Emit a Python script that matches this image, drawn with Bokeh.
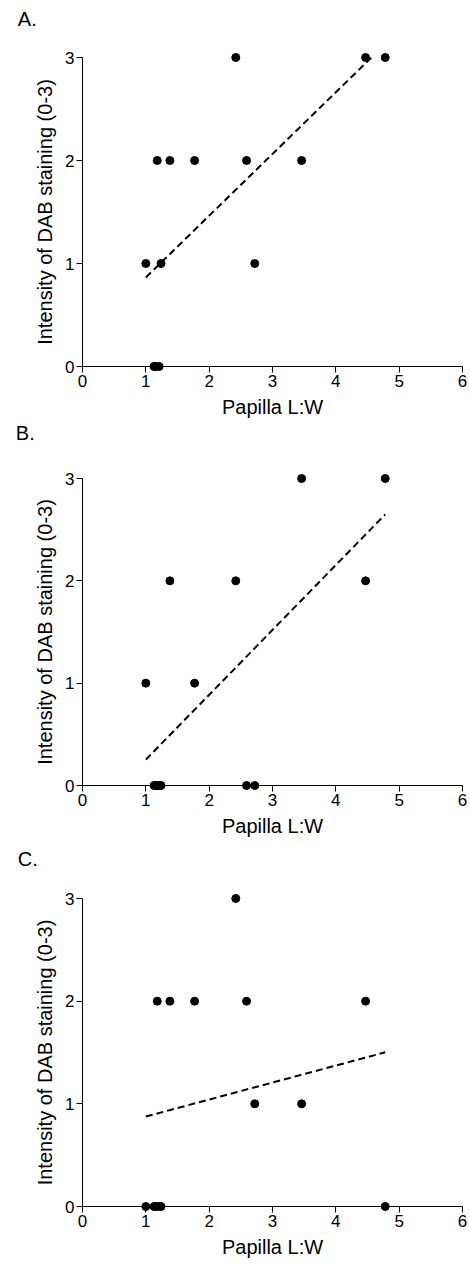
import numpy as np
from bokeh.plotting import figure
from bokeh.layouts import column
from bokeh.models import Range1d, FixedTicker
from bokeh.core.properties import value
from bokeh.embed import file_html
from bokeh.resources import INLINE

# ---- data ----
papilla_lw = [1.00, 1.13, 1.16, 1.18, 1.21, 1.24, 1.38, 1.77, 2.42, 2.59, 2.72, 3.46, 4.47, 4.78]
dab_a = [1, 0, 0, 2, 0, 1, 2, 2, 3, 2, 1, 2, 3, 3]
dab_b = [1, 0, 0, 0, 0, 0, 2, 1, 2, 0, 0, 3, 2, 3]
dab_c = [0, 0, 0, 2, 0, 0, 2, 2, 3, 2, 1, 1, 2, 0]
panel_labels = ["A.", "B.", "C."]
x_ticks = [0, 1, 2, 3, 4, 5, 6]
y_ticks = [0, 1, 2, 3]
x_label = "Papilla L:W"
y_label = "Intensity of DAB staining (0-3)"

FONT = "Liberation Sans"

# layout per panel: (fig height, border top, frame height, border left, letter centre px above frame)
specs = [(423, 57, 309, 80, 39), (422, 55, 307, 82, 46), (423, 53, 308, 80, 40)]
FIG_W = 470
FRAME_W = 382
LETTER_X_PX = 15
X_MIN, X_MAX = 0, 6
Y_MIN, Y_MAX = 0, 3


def make_panel(ys, letter, spec):
    h, top, fh, left, above = spec
    p = figure(width=FIG_W, height=h, output_backend="svg", toolbar_location=None,
               x_range=Range1d(X_MIN, X_MAX), y_range=Range1d(Y_MIN, Y_MAX),
               min_border_left=left, min_border_right=FIG_W - left - FRAME_W,
               min_border_top=top, min_border_bottom=h - top - fh)
    p.outline_line_color = None
    p.grid.visible = False
    p.background_fill_color = "white"
    p.border_fill_color = "white"

    for ax in (p.xaxis[0], p.yaxis[0]):
        ax.axis_line_color = "black"
        ax.axis_line_width = 1
        ax.major_tick_line_color = "black"
        ax.major_tick_out = 6
        ax.major_tick_in = 0
        ax.minor_tick_line_color = None
        ax.major_label_text_font = FONT
        ax.major_label_text_font_size = "17px"
        ax.major_label_text_color = "black"
        ax.axis_label_text_font = FONT
        ax.axis_label_text_font_size = "20px"
        ax.axis_label_text_font_style = "normal"
        ax.axis_label_text_color = "black"
        ax.axis_label_standoff = 6
        ax.major_label_standoff = 2
    p.xaxis.ticker = FixedTicker(ticks=x_ticks)
    p.yaxis.ticker = FixedTicker(ticks=y_ticks)
    p.xaxis.axis_label = x_label
    p.yaxis.axis_label = y_label

    # least-squares fit line over the data's x range, clipped at the top of the axis
    xs = np.array(papilla_lw, dtype=float)
    yv = np.array(ys, dtype=float)
    m, b = np.polyfit(xs, yv, 1)
    x0, x1 = xs.min(), xs.max()
    if m * x1 + b > Y_MAX:
        x1 = (Y_MAX - b) / m
    fx = [x0, x1]
    fy = [m * x0 + b, m * x1 + b]
    p.line(fx, fy, line_color="black", line_width=2, line_dash="7 4")

    r = p.scatter(papilla_lw, ys, size=8, color="black")
    r.level = "overlay"

    # panel letter, placed outside the frame (pixel offsets converted to data units)
    lx = X_MIN + (LETTER_X_PX - left) / FRAME_W * (X_MAX - X_MIN)
    ly = Y_MAX + above / fh * (Y_MAX - Y_MIN)
    t = p.text(x=[lx], y=[ly], text=[letter], text_font=value(FONT),
               text_font_size="20px", text_color="black",
               text_baseline="middle", text_align="left")
    t.level = "overlay"
    return p


panels = [make_panel(ys, lab, sp) for ys, lab, sp in zip([dab_a, dab_b, dab_c], panel_labels, specs)]
layout = column(*panels, spacing=0)
open("out.html", "w").write(file_html(layout, INLINE))
